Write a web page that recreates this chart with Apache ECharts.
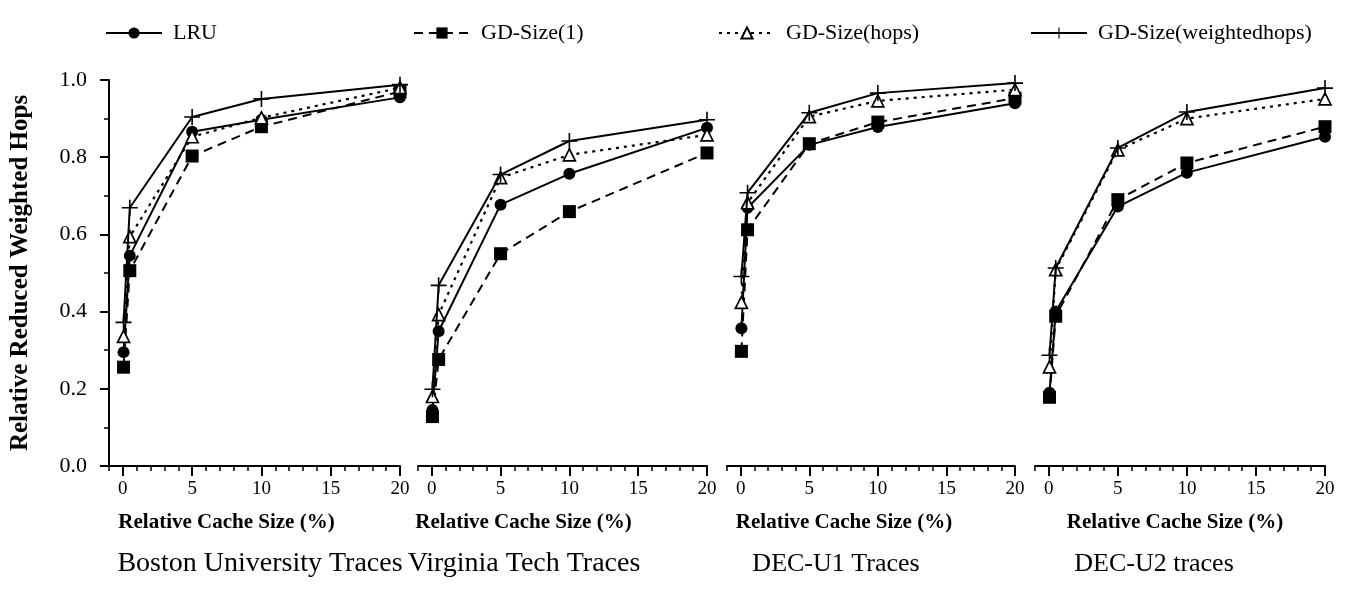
<!DOCTYPE html>
<html><head><meta charset="utf-8">
<script src="https://cdn.jsdelivr.net/npm/echarts@6/dist/echarts.min.js"></script>
<style>html,body{margin:0;padding:0;background:#fff}#c{width:1355px;height:593px}</style>
</head><body><div id="c"></div>
<script>
// ---- data ----
const cacheSizes = [0.05, 0.5, 5, 10, 20];
const seriesNames = ['LRU', 'GD-Size(1)', 'GD-Size(hops)', 'GD-Size(weightedhops)'];
const panelTitles = ['Boston University Traces', 'Virginia Tech Traces', 'DEC-U1 Traces', 'DEC-U2 traces'];
const xAxisTitle = 'Relative Cache Size (%)';
const yAxisTitle = 'Relative Reduced Weighted Hops';
const xTickValues = [0, 5, 10, 15, 20];

const bostonLRU   = [0.295, 0.545, 0.866, 0.897, 0.955];
const bostonGD1   = [0.256, 0.506, 0.803, 0.879, 0.970];
const bostonHops  = [0.336, 0.594, 0.853, 0.902, 0.980];
const bostonWHops = [0.372, 0.669, 0.904, 0.951, 0.988];

const vtLRU   = [0.145, 0.349, 0.677, 0.757, 0.876];
const vtGD1   = [0.128, 0.276, 0.550, 0.659, 0.811];
const vtHops  = [0.180, 0.392, 0.747, 0.806, 0.858];
const vtWHops = [0.199, 0.468, 0.755, 0.842, 0.897];

const u1LRU   = [0.357, 0.669, 0.832, 0.878, 0.940];
const u1GD1   = [0.297, 0.612, 0.835, 0.891, 0.953];
const u1Hops  = [0.424, 0.682, 0.905, 0.946, 0.975];
const u1WHops = [0.491, 0.708, 0.915, 0.966, 0.992];

const u2LRU   = [0.190, 0.400, 0.672, 0.760, 0.853];
const u2GD1   = [0.178, 0.388, 0.690, 0.785, 0.879];
const u2Hops  = [0.257, 0.509, 0.819, 0.900, 0.951];
const u2WHops = [0.287, 0.513, 0.824, 0.917, 0.979];

const panelData = [
  [bostonLRU, bostonGD1, bostonHops, bostonWHops],
  [vtLRU, vtGD1, vtHops, vtWHops],
  [u1LRU, u1GD1, u1Hops, u1WHops],
  [u2LRU, u2GD1, u2Hops, u2WHops]
];

// ---- layout / style ----
const FONT = '"Liberation Serif", "Times New Roman", serif';
const grids = [
  {left: 109, width: 291}, {left: 418, width: 289},
  {left: 727, width: 288}, {left: 1035, width: 290}
];
const gridTop = 80, gridHeight = 386;
const titleCenters = [260, 524, 836, 1154];
const titleSizes = [28, 28, 26, 26];
const xNamePad = [56, 78, 54, 10];

const plusPath = 'path://M9,0h2v20h-2z M0,9h20v2h-20z';
const styles = [
  {symbol: 'circle', symbolSize: 12, line: {type: 'solid', width: 2}, item: {color: '#000'}},
  {symbol: 'rect', symbolSize: 13, line: {type: [9, 6], width: 2}, item: {color: '#000'}},
  {symbol: 'triangle', symbolSize: 12, line: {type: [3, 5], width: 2.2}, item: {color: '#fff', borderColor: '#000', borderWidth: 1.7}},
  {symbol: plusPath, symbolSize: 16, line: {type: 'solid', width: 2}, item: {color: '#000'}}
];

const xAxes = [], yAxes = [], series = [], graphics = [];
grids.forEach((g, i) => {
  xAxes.push({
    type: 'value', gridIndex: i, min: -1, max: 20, position: 'bottom',
    axisLine: {show: true, onZero: false, lineStyle: {color: '#000', width: 2}},
    axisTick: {show: true, customValues: xTickValues, length: 10, lineStyle: {color: '#000', width: 2}},
    axisLabel: {customValues: xTickValues, color: '#000', fontFamily: FONT, fontSize: 19, margin: 14},
    splitLine: {show: false},
    name: xAxisTitle, nameLocation: 'middle', nameGap: 46,
    nameTextStyle: {fontFamily: FONT, fontWeight: 'bold', fontSize: 21, color: '#000', padding: [0, xNamePad[i], 0, 0]}
  });
  xAxes.push({
    type: 'value', gridIndex: i, min: -1, max: 20, interval: 1, position: 'bottom',
    axisLine: {show: false, onZero: false},
    axisTick: {show: true, length: 5, lineStyle: {color: '#000', width: 1.5}},
    axisLabel: {show: false}, splitLine: {show: false}
  });
  yAxes.push({
    type: 'value', gridIndex: i, min: 0, max: 1, interval: 0.2, show: i === 0, position: 'left',
    axisLine: {show: true, onZero: false, lineStyle: {color: '#000', width: 2}},
    axisTick: {show: true, length: 9, lineStyle: {color: '#000', width: 2}},
    minorTick: {show: true, splitNumber: 2, length: 5, lineStyle: {color: '#000', width: 1.5}},
    axisLabel: {color: '#000', fontFamily: FONT, fontSize: 22, margin: 22, formatter: v => v.toFixed(1)},
    splitLine: {show: false},
    name: i === 0 ? yAxisTitle : '', nameLocation: 'middle', nameGap: 76,
    nameTextStyle: {fontFamily: FONT, fontWeight: 'bold', fontSize: 25, color: '#000'}
  });
  panelData[i].forEach((vals, s) => {
    const st = styles[s];
    series.push({
      type: 'line', name: seriesNames[s], xAxisIndex: 2 * i, yAxisIndex: i,
      data: cacheSizes.map((x, k) => [x, vals[k]]),
      symbol: st.symbol, symbolSize: st.symbolSize, showAllSymbol: true,
      lineStyle: Object.assign({color: '#000'}, st.line),
      itemStyle: st.item, z: 2 + s, animation: false
    });
  });
  graphics.push({
    type: 'text', x: titleCenters[i], y: 564,
    style: {text: panelTitles[i], font: titleSizes[i] + 'px ' + FONT, fill: '#000', textAlign: 'center', textVerticalAlign: 'middle'}
  });
});

const legendLefts = [100, 408, 713, 1025];
const legends = seriesNames.map((n, i) => ({
  data: [n], left: legendLefts[i], top: 17, itemWidth: 56, itemHeight: 14, itemGap: 10,
  textStyle: {fontFamily: FONT, fontSize: 22, color: '#000', padding: [0, 0, 0, 6]}
}));

const chart = echarts.init(document.getElementById('c'), null, {renderer: 'canvas'});
chart.setOption({
  backgroundColor: '#fff',
  animation: false,
  legend: legends,
  grid: grids.map(g => ({left: g.left, width: g.width, top: gridTop, height: gridHeight})),
  xAxis: xAxes,
  yAxis: yAxes,
  series: series,
  graphic: graphics
});
</script>
</body></html>
